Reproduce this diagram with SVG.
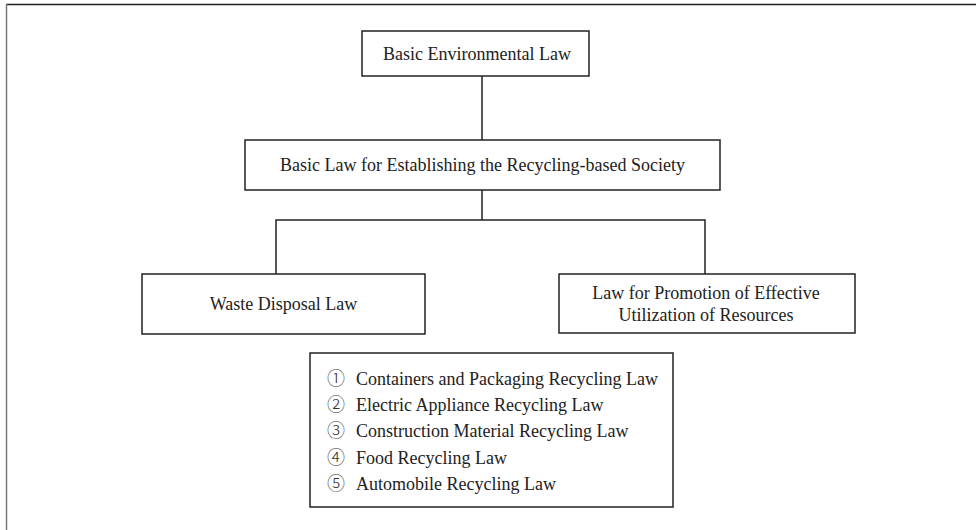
<svg xmlns="http://www.w3.org/2000/svg" width="976" height="530" viewBox="0 0 976 530">
<style>
.box{fill:#fff;stroke:#222;stroke-width:1.5}
.t{font-family:"Liberation Serif","Times New Roman",serif;font-size:18px;fill:#222}
.n{font-family:"Noto Sans CJK JP","Noto Sans CJK SC",sans-serif;font-size:18px;font-weight:300;fill:#333}
.c{stroke:#222;stroke-width:1.5;fill:none}
</style>
<rect width="976" height="530" fill="#fff"/>
<g id="frame">
<line x1="6" y1="4.5" x2="976" y2="4.5" stroke="#222" stroke-width="1.5"/>
<line x1="6.5" y1="4" x2="6.5" y2="530" stroke="#777" stroke-width="1.5"/>
</g>
<g id="connectors">
<line class="c" x1="482" y1="76" x2="482" y2="140"/>
<line class="c" x1="482" y1="190" x2="482" y2="220"/>
<polyline class="c" points="276,274 276,220 705,220 705,274"/>
</g>
<g id="basic-env">
<rect class="box" x="362" y="31" width="227" height="45"/>
<text class="t" x="477" y="60" text-anchor="middle">Basic Environmental Law</text>
</g>
<g id="recycling-society">
<rect class="box" x="245" y="140" width="475" height="50"/>
<text class="t" x="482.5" y="171" text-anchor="middle">Basic Law for Establishing the Recycling-based Society</text>
</g>
<g id="waste-disposal">
<rect class="box" x="142" y="274" width="283" height="60"/>
<text class="t" x="283.5" y="310" text-anchor="middle">Waste Disposal Law</text>
</g>
<g id="effective-utilization">
<rect class="box" x="559" y="274" width="296" height="59"/>
<text class="t" x="706" y="299" text-anchor="middle">Law for Promotion of Effective</text>
<text class="t" x="706" y="321" text-anchor="middle">Utilization of Resources</text>
</g>
<g id="recycling-laws">
<rect class="box" x="310" y="353" width="363" height="154"/>
<text class="n" x="327" y="385">①</text><text class="t" x="356" y="385">Containers and Packaging Recycling Law</text>
<text class="n" x="327" y="411">②</text><text class="t" x="356" y="411">Electric Appliance Recycling Law</text>
<text class="n" x="327" y="437">③</text><text class="t" x="356" y="437">Construction Material Recycling Law</text>
<text class="n" x="327" y="464">④</text><text class="t" x="356" y="464">Food Recycling Law</text>
<text class="n" x="327" y="490">⑤</text><text class="t" x="356" y="490">Automobile Recycling Law</text>
</g>
</svg>
